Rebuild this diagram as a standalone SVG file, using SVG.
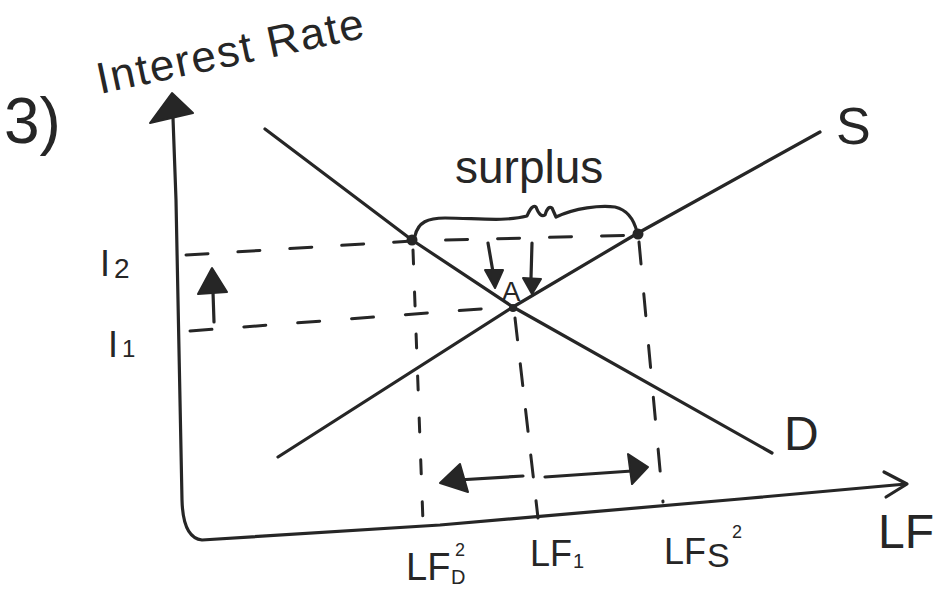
<svg xmlns="http://www.w3.org/2000/svg" width="936" height="592" viewBox="0 0 936 592">
  <style>
    .ink { fill: none; stroke: #262626; stroke-width: 3.2; stroke-linecap: round; stroke-linejoin: round; }
    .dash { fill: none; stroke: #262626; stroke-width: 3; stroke-linecap: round; }
    .solid { fill: #262626; stroke: #262626; stroke-width: 2; stroke-linejoin: round; }
    .t { font-family: "Liberation Sans", "DejaVu Sans", sans-serif; fill: #262626; }
  </style>
  <rect width="936" height="592" fill="#ffffff"/>

  <g id="axes">
    <path class="ink" d="M173,118 L176,200 L182,500 Q183,538 202,540 L440,525 L740,499 L906,484"/>
    <polygon class="solid" points="150,123 172,93 193,113"/>
    <path class="ink" d="M884,472 L907,484 L886,497"/>
  </g>

  <g id="curves">
    <path id="demand" class="ink" d="M265,129 L412,240 L513,307 L772,453"/>
    <path id="supply" class="ink" d="M278,457 L513,307 L638,233 L820,132"/>
    <circle cx="412" cy="240" r="5.5" fill="#262626"/>
    <circle cx="638" cy="234" r="5.5" fill="#262626"/>
    <circle cx="513" cy="308" r="4" fill="#262626"/>
  </g>

  <g id="guides">
    <path class="dash" d="M186,255 L412,241 L638,235" stroke-dasharray="22 30"/>
    <path class="dash" d="M190,331 L506,307" stroke-dasharray="22 32"/>
    <path class="dash" d="M413,250 L423,522" stroke-dasharray="14 28"/>
    <path class="dash" d="M515,318 L538,518" stroke-dasharray="22 24"/>
    <path class="dash" d="M639,242 L663,502" stroke-dasharray="22 30"/>
  </g>

  <g id="brace">
    <path class="ink" d="M415,236 C418,222 428,218 445,218 C475,218 505,222 527,216 Q532,204 536,207 Q540,218 545,215 Q548,205 552,208 L556,217 C575,208 600,205 615,207 C628,210 634,220 637,232"/>
  </g>

  <g id="connectors">
    <path class="ink" d="M214,322 L213,292"/>
    <polygon class="solid" points="212,268 198,294 227,292"/>
    <path class="ink" d="M488,243 L493,272"/>
    <polygon class="solid" points="495,288 485,270 503,270"/>
    <path class="ink" d="M532,243 L531,278"/>
    <polygon class="solid" points="532,294 523,278 541,279"/>
    <path class="ink" d="M523,476 L458,480"/>
    <polygon class="solid" points="440,483 460,464 468,492"/>
    <path class="ink" d="M545,477 L632,471"/>
    <polygon class="solid" points="648,467 628,454 632,484"/>
  </g>

  <g id="labels">
    <text class="t" x="4" y="143" font-size="64">3)</text>
    <text class="t" x="100" y="94" font-size="44" textLength="272" lengthAdjust="spacing" transform="rotate(-12 100 94)">Interest Rate</text>
    <text class="t" x="455" y="183" font-size="46">surplus</text>
    <text class="t" x="511" y="301" font-size="28" text-anchor="middle">A</text>
    <text class="t" x="836" y="144" font-size="52">S</text>
    <text class="t" x="784" y="450" font-size="48">D</text>
    <text class="t" x="878" y="548" font-size="48">LF</text>
    <text class="t" x="100" y="276" font-size="36">I<tspan font-size="28" dx="4" dy="2">2</tspan></text>
    <text class="t" x="108" y="357" font-size="36">I<tspan font-size="24" dx="4">1</tspan></text>
    <text class="t" x="406" y="580" font-size="38">LF</text>
    <text class="t" x="451" y="584" font-size="20">D</text>
    <text class="t" x="455" y="556" font-size="18">2</text>
    <text class="t" x="530" y="566" font-size="36">LF</text>
    <text class="t" x="573" y="568" font-size="20">1</text>
    <text class="t" x="664" y="564" font-size="36">LF</text>
    <text class="t" x="707" y="567" font-size="34">S</text>
    <text class="t" x="732" y="538" font-size="18">2</text>
  </g>
</svg>
